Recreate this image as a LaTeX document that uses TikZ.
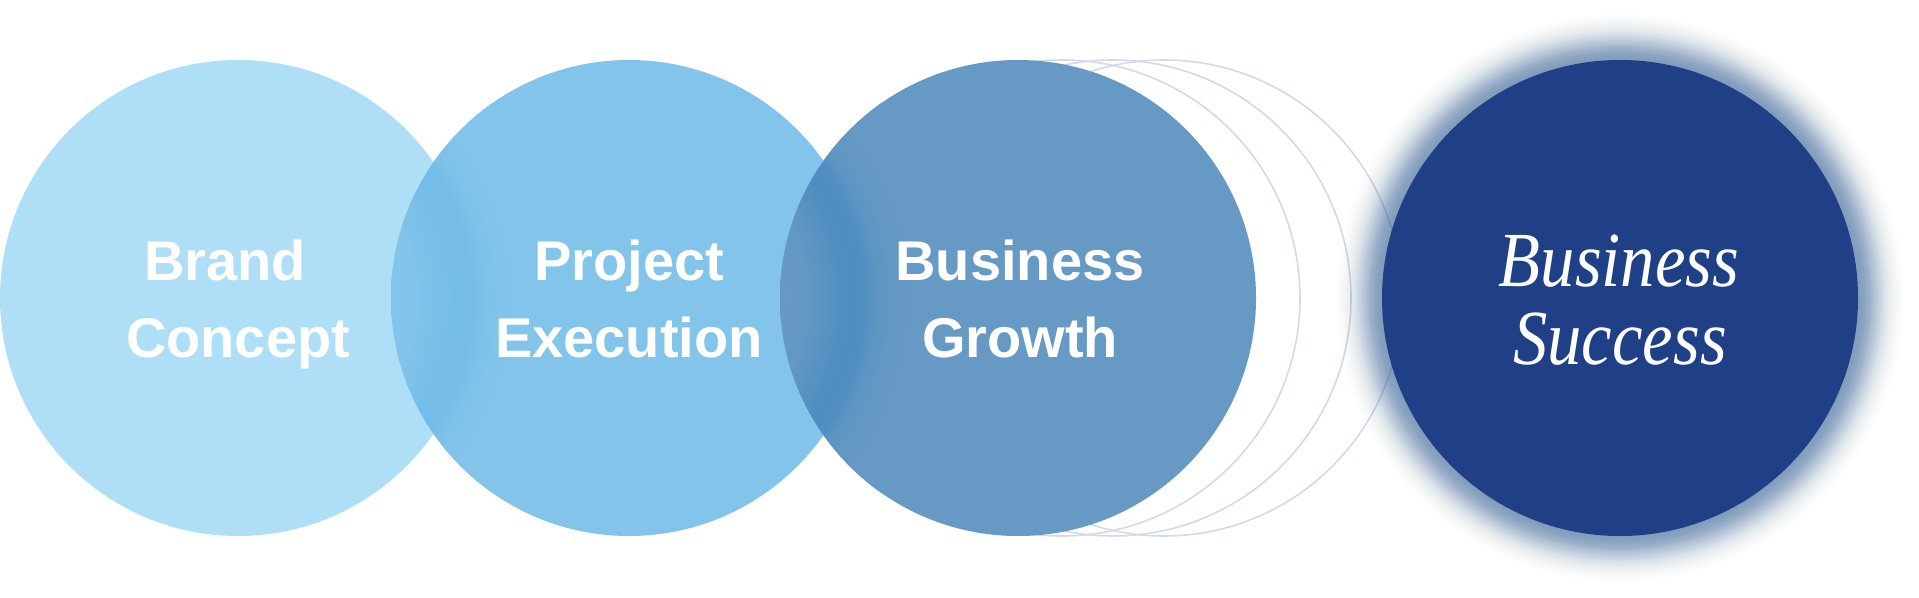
\documentclass[tikz,border=0pt]{standalone}
\usepackage{fontspec}
\usepackage{graphicx}
\newfontfamily\lblsans{Liberation Sans}
\newfontfamily\lblserif{Liberation Serif}

\definecolor{cOne}{HTML}{AEDFF7}
\definecolor{cTwo}{HTML}{83C4EA}
\definecolor{cThree}{HTML}{6699C4}
\definecolor{cFour}{HTML}{1F3F86}
\definecolor{shTwo}{HTML}{4AA8E2}
\definecolor{shThree}{HTML}{2F7DBD}
\definecolor{ghostc}{HTML}{D3D9EB}
\definecolor{glowc}{HTML}{4F7DB6}

\pgfdeclareradialshading{shadeTwo}{\pgfpointorigin}{%
color(0bp)=(cTwo); color(11.094bp)=(cTwo); color(12.656bp)=(shTwo!1!cTwo);
color(13.828bp)=(shTwo!3!cTwo); color(14.688bp)=(shTwo!10!cTwo);
color(15.625bp)=(shTwo!16!cTwo); color(16.5625bp)=(shTwo!23!cTwo);
color(17.5bp)=(shTwo!26!cTwo); color(18.4375bp)=(shTwo!23!cTwo);
color(19.297bp)=(shTwo!10!cTwo); color(20.469bp)=(shTwo!3!cTwo);
color(22.031bp)=(cTwo); color(25bp)=(cTwo); color(50bp)=(cTwo)}

\pgfdeclareradialshading{shadeThree}{\pgfpointorigin}{%
color(0bp)=(cThree); color(11.094bp)=(cThree); color(12.656bp)=(shThree!1!cThree);
color(13.828bp)=(shThree!5!cThree); color(14.688bp)=(shThree!15!cThree);
color(15.625bp)=(shThree!26!cThree); color(16.5625bp)=(shThree!37!cThree);
color(17.5bp)=(shThree!42!cThree); color(18.4375bp)=(shThree!37!cThree);
color(19.297bp)=(shThree!15!cThree); color(20.469bp)=(shThree!5!cThree);
color(22.031bp)=(cThree); color(25bp)=(cThree); color(50bp)=(cThree)}

\tikzset{
  disc/.style={circle, minimum size=476pt, inner sep=0pt, draw=none},
  ghost/.style={draw=ghostc, line width=1.6pt},
  sanslbl/.style={text=white, font=\lblsans\bfseries\fontsize{56}{56}\selectfont, anchor=base, inner sep=0pt},
  seriflbl/.style={text=white, font=\lblserif\itshape\fontsize{78}{78}\selectfont, anchor=base, inner sep=0pt}
}

\begin{document}
\begin{tikzpicture}[x=1pt,y=-1pt]
\useasboundingbox[fill=white] (0,0) rectangle (1919,597);
\coordinate (p1) at (238,298);
\coordinate (p2) at (629,298);
\coordinate (p3) at (1018,298);
\coordinate (p4) at (1620,298);
\coordinate (g1) at (1062,298);
\coordinate (g2) at (1113,298);
\coordinate (g3) at (1164,298);

% circle 1
\node[disc, fill=cOne] (c1) at (p1) {};
% circle 2 with soft shadow band
\node[disc, fill=cTwo] (c2) at (p2) {};
\begin{scope}
  \clip (p2) circle[radius=238pt];
  \shade[shading=shadeTwo] (p1) circle[radius=320pt];
\end{scope}
% ghost outlines
\foreach \g in {g1,g2,g3} \draw[ghost] (\g) circle[radius=238pt];
% circle 3 with soft shadow band
\node[disc, fill=cThree] (c3) at (p3) {};
\begin{scope}
  \clip (p3) circle[radius=238pt];
  \shade[shading=shadeThree] (p2) circle[radius=320pt];
\end{scope}
% glow round circle 4
\foreach \k in {0,...,69}{
  \pgfmathsetmacro\tA{0.6/exp((\k/23)^2)}
  \pgfmathsetmacro\tB{0.6/exp(((\k+1)/23)^2)}
  \pgfmathsetmacro\al{(\tA-\tB)/(1-\tB)}
  \pgfmathsetmacro\rr{238+\k+1}
  \fill[glowc, fill opacity=\al] (p4) circle[radius=\rr pt];
}
\node[disc, fill=cFour] (c4) at (p4) {};

% labels
\node[sanslbl] (t1a) at (225,280) {Brand};
\node[sanslbl] (t1b) at (238,357) {Concept};
\node[sanslbl] (t2a) at (629,280) {Project};
\node[sanslbl] (t2b) at (629,357) {Execution};
\node[sanslbl] (t3a) at (1020,280) {Business};
\node[sanslbl] (t3b) at (1020,357) {Growth};
\node[seriflbl] (t4a) at (1619,286) {\scalebox{0.88}[1]{Business}};
\node[seriflbl] (t4b) at (1620,364) {\scalebox{0.88}[1]{Success}};
\end{tikzpicture}
\end{document}
